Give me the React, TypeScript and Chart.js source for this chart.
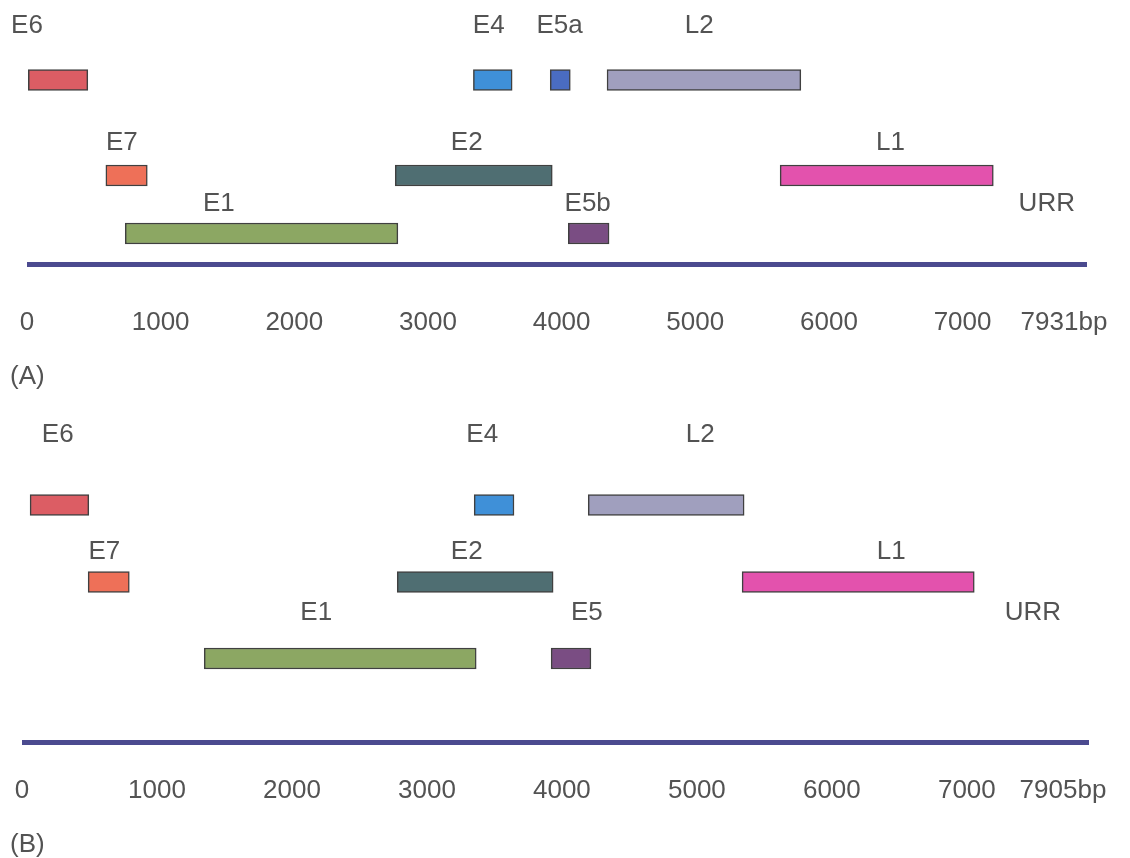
import React, { useEffect, useRef } from 'react';
import { Chart, registerables } from 'chart.js';

Chart.register(...registerables);

// ---- Panel A: genome of 7931 bp ----
const genesA = ['E6', 'E4', 'E5a', 'L2', 'E7', 'E2', 'L1', 'E1', 'E5b'];
const startA = [10, 3340, 3915, 4340, 590, 2755, 5635, 735, 4050];
const endA = [455, 3630, 4065, 5790, 900, 3930, 7230, 2775, 4355];
const laneA = [0, 0, 0, 0, 1, 1, 1, 2, 2];
const labelAtA = [0, 3455, 3985, 5030, 710, 3290, 6460, 1435, 4195];
const urrAtA = 7630;
const lengthA = 7931;
const tickValuesA = [0, 1000, 2000, 3000, 4000, 5000, 6000, 7000, 7931];
const tickLabelsA = ['0', '1000', '2000', '3000', '4000', '5000', '6000', '7000', '7931bp'];

// ---- Panel B: genome of 7905 bp ----
const genesB = ['E6', 'E4', 'L2', 'E7', 'E2', 'L1', 'E1', 'E5'];
const startB = [60, 3350, 4195, 490, 2780, 5335, 1350, 3920];
const endB = [495, 3645, 5350, 795, 3935, 7055, 3365, 4215];
const laneB = [0, 0, 0, 1, 1, 1, 2, 2];
const labelAtB = [265, 3410, 5025, 610, 3295, 6440, 2180, 4185];
const urrAtB = 7490;
const lengthB = 7905;
const tickValuesB = [0, 1000, 2000, 3000, 4000, 5000, 6000, 7000, 7905];
const tickLabelsB = ['0', '1000', '2000', '3000', '4000', '5000', '6000', '7000', '7905bp'];

const GENE_COLORS: Record<string, string> = {
  E6: '#dc5d64',
  E7: '#ee7058',
  E4: '#3f90d8',
  E5a: '#4a6cc2',
  L2: '#a09fbe',
  E2: '#4f6e72',
  L1: '#e352ad',
  E1: '#8ca763',
  E5b: '#7a4d83',
  E5: '#7a4d83',
};

const WIDTH = 1130;
const FONT = '26px "Liberation Sans", Arial, sans-serif';
const TEXT_COLOR = '#535353';
const BACKBONE_COLOR = '#4b4a8f';

interface PanelSpec {
  genes: string[];
  start: number[];
  end: number[];
  lane: number[];
  labelAt: number[];
  urrAt: number;
  length: number;
  tickValues: number[];
  tickLabels: string[];
  caption: string;
  // layout
  height: number;
  left: number;
  right: number;
  laneY: number[];
  labelY: number[];
  lineY: number;
  tickY: number;
  endLabelX: number;
  captionY: number;
}

const panelA: PanelSpec = {
  genes: genesA, start: startA, end: endA, lane: laneA, labelAt: labelAtA,
  urrAt: urrAtA, length: lengthA, tickValues: tickValuesA, tickLabels: tickLabelsA,
  caption: '(A)',
  height: 400, left: 27, right: 1087,
  laneY: [80, 175.5, 233.5], labelY: [33, 150, 211], lineY: 264.5, tickY: 330,
  endLabelX: 1064, captionY: 384,
};

const panelB: PanelSpec = {
  genes: genesB, start: startB, end: endB, lane: laneB, labelAt: labelAtB,
  urrAt: urrAtB, length: lengthB, tickValues: tickValuesB, tickLabels: tickLabelsB,
  caption: '(B)',
  height: 458, left: 22, right: 1089,
  laneY: [105, 182, 258.5], labelY: [42, 159, 220], lineY: 342.5, tickY: 398,
  endLabelX: 1063, captionY: 452,
};

function makeTextPlugin(p: PanelSpec) {
  return {
    id: 'genomeText',
    afterDatasetsDraw(chart: any) {
      const { ctx } = chart;
      const xs = chart.scales.x;
      ctx.save();
      ctx.font = FONT;
      ctx.fillStyle = TEXT_COLOR;
      ctx.textBaseline = 'alphabetic';
      ctx.textAlign = 'center';

      // gene names above their bars
      p.genes.forEach((g, i) => {
        ctx.fillText(g, xs.getPixelForValue(p.labelAt[i]), p.labelY[p.lane[i]]);
      });
      ctx.fillText('URR', xs.getPixelForValue(p.urrAt), p.labelY[2]);

      // base-pair ruler labels; the genome-length label is pulled in so it stays on the canvas
      p.tickValues.forEach((v, i) => {
        const last = i === p.tickValues.length - 1;
        const x = last ? p.endLabelX : xs.getPixelForValue(v);
        ctx.fillText(p.tickLabels[i], x, p.tickY);
      });

      // panel caption
      ctx.textAlign = 'left';
      ctx.fillText(p.caption, 10, p.captionY);
      ctx.restore();
    },
  };
}

function GenomePanel({ p }: { p: PanelSpec }) {
  const ref = useRef<HTMLCanvasElement>(null);

  useEffect(() => {
    const canvas = ref.current;
    if (!canvas) return;
    const chart = new Chart(canvas, {
      type: 'bar',
      data: {
        datasets: [
          {
            type: 'bar',
            data: p.genes.map((g, i) => ({ x: [p.start[i], p.end[i]], y: p.laneY[p.lane[i]] })) as any,
            backgroundColor: p.genes.map((g) => GENE_COLORS[g]),
            borderColor: '#404040',
            borderWidth: 1.5,
            borderSkipped: false,
            barThickness: 21,
          } as any,
          {
            type: 'line',
            data: [
              { x: 0, y: p.lineY },
              { x: p.length, y: p.lineY },
            ] as any,
            borderColor: BACKBONE_COLOR,
            borderWidth: 5,
            pointRadius: 0,
            fill: false,
          } as any,
        ],
      },
      options: {
        indexAxis: 'y',
        responsive: false,
        maintainAspectRatio: false,
        animation: false,
        layout: { padding: { left: p.left, right: WIDTH - p.right, top: 0, bottom: 0 } },
        scales: {
          x: { type: 'linear', min: 0, max: p.length, display: false, offset: false },
          y: { type: 'linear', min: 0, max: p.height, reverse: true, display: false, offset: false },
        },
        plugins: {
          legend: { display: false },
          tooltip: { enabled: false },
        },
      },
      plugins: [makeTextPlugin(p)],
    } as any);
    return () => chart.destroy();
  }, [p]);

  return <canvas ref={ref} width={WIDTH} height={p.height} style={{ display: 'block' }} />;
}

export default function App() {
  return (
    <div style={{ position: 'absolute', left: 0, top: 0, width: WIDTH, height: 858, background: '#ffffff' }}>
      <GenomePanel p={panelA} />
      <GenomePanel p={panelB} />
    </div>
  );
}
